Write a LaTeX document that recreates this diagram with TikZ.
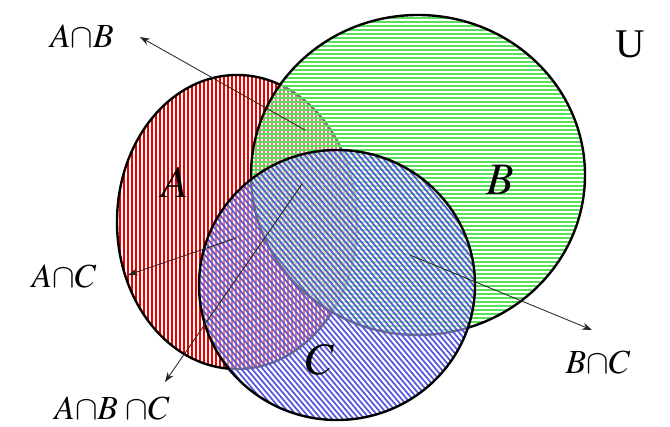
\documentclass[tikz,border=0pt]{standalone}
\usepackage{mathptmx}
\usepackage{fontspec}
\setmainfont{Liberation Serif}
\usetikzlibrary{arrows.meta}
\definecolor{hatchred}{RGB}{235,0,0}
\definecolor{hatchgreen}{RGB}{90,225,90}
\definecolor{hatchblue}{RGB}{85,85,220}
\tikzset{
  rim/.style={black, line width=1.7pt},
  veil/.style={white, opacity=0.45},
  setname/.style={font=\fontsize{32}{32}\selectfont},
  caplabel/.style={font=\fontsize{24}{24}\selectfont, inner sep=1pt},
  pointer/.style={-{Stealth[length=7pt,width=5pt]}, semithick, black!85}
}
\begin{document}
\begin{tikzpicture}
    % cadre : 670 x 426 px, 1 px = 0.025 cm
    \useasboundingbox (0,0) rectangle (16.75,10.65);
    \fill[white] (0,0) rectangle (16.75,10.65);

    % ensemble A : hachures verticales rouges
    \fill[white] (5.925,5.1) ellipse [x radius=3, y radius=3.675];
    \begin{scope}
      \clip (5.925,5.1) ellipse [x radius=3, y radius=3.675];
      \foreach \x in {2.9,3.0,...,9.0}
        \draw[hatchred, line width=0.04cm] (\x,1.3) -- (\x,8.9);
    \end{scope}
    \draw[rim] (5.925,5.1) ellipse [x radius=3, y radius=3.675];

    % ensemble B : hachures horizontales vertes
    \fill[veil] (10.45,6.275) ellipse [x radius=4.175, y radius=4];
    \begin{scope}
      \clip (10.45,6.275) ellipse [x radius=4.175, y radius=4];
      \foreach \y in {2.2,2.3,...,10.4}
        \draw[hatchgreen, line width=0.045cm] (6.2,\y) -- (14.7,\y);
    \end{scope}
    \draw[rim] (10.45,6.275) ellipse [x radius=4.175, y radius=4];

    % ensemble C : hachures obliques bleues
    \fill[veil] (8.425,3.525) ellipse [x radius=3.45, y radius=3.375];
    \begin{scope}
      \clip (8.425,3.525) ellipse [x radius=3.45, y radius=3.375];
      \foreach \x in {0.0,0.135,...,17.0}
        \draw[hatchblue, line width=0.042cm] (\x,7.0) -- ++(8.4,-10);
    \end{scope}
    \draw[rim] (8.425,3.525) ellipse [x radius=3.45, y radius=3.375];

    % noms des ensembles
    \node[setname] (nameA) at (4.375,6.1) {$A$};
    \node[setname] (nameB) at (12.5,6.15) {$B$};
    \node[setname] (nameC) at (8.0,1.65) {$C$};
    \node[font=\fontsize{29}{29}\selectfont] (univ) at (15.75,9.55) {U};

    % etiquettes des intersections
    \node[caplabel] (labAB) at (2.05,9.75) {$A{\cap}B$};
    \node[caplabel] (labAC) at (1.6,3.75) {$A{\cap}C$};
    \node[caplabel] (labABC) at (2.8,0.45) {$A{\cap}B\;{\cap}C$};
    \node[caplabel] (labBC) at (14.95,1.6) {$B{\cap}C$};

    % points de depart et pointes des fleches
    \coordinate (inAB) at (7.625,7.4);
    \coordinate (tipAB) at (3.5,9.725);
    \coordinate (inAC) at (5.9,4.7);
    \coordinate (tipAC) at (3.2,3.775);
    \coordinate (inABC) at (7.55,6.05);
    \coordinate (tipABC) at (4.125,1.1);
    \coordinate (inBC) at (10.25,4.275);
    \coordinate (tipBC) at (14.8,2.4);

    \draw[pointer] (inAB) -- (tipAB);
    \draw[pointer] (inAC) -- (tipAC);
    \draw[pointer] (inABC) -- (tipABC);
    \draw[pointer] (inBC) -- (tipBC);
\end{tikzpicture}
\end{document}
